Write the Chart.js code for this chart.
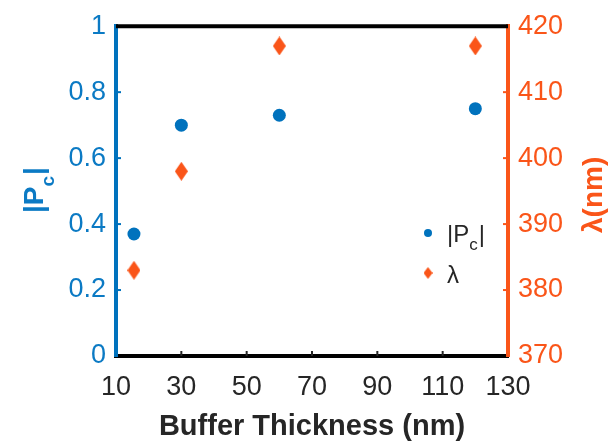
<!DOCTYPE html>
<html lang="en">
<head>
  <meta charset="UTF-8">
  <title>Buffer Thickness</title>
  <script src="https://cdn.jsdelivr.net/npm/chart.js"></script>
  <style>
    body { margin: 0; padding: 0; background: #fff; }
    canvas { display: block; }
  </style>
</head>
<body>
  <canvas id="chart" width="611" height="441"></canvas>
  <script>
    // data
    const thickness = [15.5, 30, 60, 120];        // nm
    const pcValues = [0.37, 0.70, 0.73, 0.75];    // |Pc|
    const lambdaValues = [383, 398, 417, 417];    // nm
    const xTicks = [10, 30, 50, 70, 90, 110, 130];
    const pcTicks = [0, 0.2, 0.4, 0.6, 0.8, 1];
    const lambdaTicks = [370, 380, 390, 400, 410, 420];

    const BLUE = '#0072BD';
    const BLUE_TEXT = '#0B7AC4';
    const ORANGE = '#FA5519';
    const DARK = '#262626';
    const FONT = "'Liberation Sans', Arial, Helvetica, sans-serif";

    // MATLAB-like diamond (taller than wide)
    function makeDiamond(w, h, color) {
      const c = document.createElement('canvas');
      c.width = w; c.height = h;
      const g = c.getContext('2d');
      g.fillStyle = color;
      g.beginPath();
      g.moveTo(w / 2, 0);
      g.lineTo(w, h / 2);
      g.lineTo(w / 2, h);
      g.lineTo(0, h / 2);
      g.closePath();
      g.fill();
      return c;
    }
    const diamond = makeDiamond(13, 19, ORANGE);
    const smallDiamond = makeDiamond(9, 12, ORANGE);

    const pcPoints = thickness.map((x, i) => ({ x, y: pcValues[i] }));
    const lambdaPoints = thickness.map((x, i) => ({ x, y: lambdaValues[i] }));

    const decor = {
      id: 'decor',
      afterDraw(chart) {
        const ctx = chart.ctx;
        const a = chart.chartArea;
        const xs = chart.scales.x, ys = chart.scales.y, ys1 = chart.scales.y1;
        ctx.save();
        // top box line
        ctx.strokeStyle = '#000';
        ctx.lineWidth = 4;
        ctx.beginPath();
        ctx.moveTo(a.left, a.top);
        ctx.lineTo(a.right, a.top);
        ctx.stroke();

        // inward tick marks
        ctx.lineWidth = 2;
        ctx.strokeStyle = DARK;
        xTicks.slice(1, -1).forEach(v => {
          const px = xs.getPixelForValue(v);
          ctx.beginPath(); ctx.moveTo(px, a.bottom); ctx.lineTo(px, a.bottom - 5); ctx.stroke();
        });
        ctx.strokeStyle = BLUE;
        pcTicks.slice(1, -1).forEach(v => {
          const py = ys.getPixelForValue(v);
          ctx.beginPath(); ctx.moveTo(a.left, py); ctx.lineTo(a.left + 5, py); ctx.stroke();
        });
        ctx.strokeStyle = ORANGE;
        lambdaTicks.slice(1, -1).forEach(v => {
          const py = ys1.getPixelForValue(v);
          ctx.beginPath(); ctx.moveTo(a.right, py); ctx.lineTo(a.right - 5, py); ctx.stroke();
        });

        // x title
        ctx.fillStyle = DARK;
        ctx.font = 'bold 29px ' + FONT;
        ctx.textAlign = 'center';
        ctx.textBaseline = 'alphabetic';
        ctx.fillText('Buffer Thickness (nm)', (a.left + a.right) / 2, 435);

        // left title |Pc| with subscript
        ctx.save();
        ctx.translate(43, 213);
        ctx.rotate(-Math.PI / 2);
        ctx.fillStyle = BLUE_TEXT;
        ctx.textAlign = 'left';
        ctx.font = 'bold 28px ' + FONT;
        ctx.fillText('|P', 0, 0);
        let w = ctx.measureText('|P').width;
        ctx.font = 'bold 19px ' + FONT;
        ctx.fillText('c', w, 11);
        w += ctx.measureText('c').width + 1;
        ctx.font = 'bold 28px ' + FONT;
        ctx.fillText('|', w, 0);
        ctx.restore();

        // right title λ(nm)
        ctx.save();
        ctx.translate(602, 233);
        ctx.rotate(-Math.PI / 2);
        ctx.fillStyle = ORANGE;
        ctx.textAlign = 'left';
        ctx.font = 'bold 28px ' + FONT;
        ctx.fillText('λ(nm)', 0, 0);
        ctx.restore();

        // legend
        ctx.fillStyle = BLUE;
        ctx.beginPath();
        ctx.arc(428, 233, 4, 0, Math.PI * 2);
        ctx.fill();
        ctx.drawImage(smallDiamond, 428 - 4.5, 273 - 6);
        ctx.fillStyle = DARK;
        ctx.textAlign = 'left';
        ctx.font = '24px ' + FONT;
        ctx.fillText('|P', 447, 242);
        let lw = ctx.measureText('|P').width;
        ctx.font = '17px ' + FONT;
        ctx.fillText('c', 447 + lw, 250);
        lw += ctx.measureText('c').width + 1;
        ctx.font = '24px ' + FONT;
        ctx.fillText('|', 447 + lw, 242);
        ctx.fillText('λ', 447, 283);
        ctx.restore();
      }
    };

    new Chart(document.getElementById('chart'), {
      type: 'scatter',
      data: {
        datasets: [
          {
            label: '|Pc|',
            data: pcPoints,
            yAxisID: 'y',
            backgroundColor: BLUE,
            borderColor: BLUE,
            pointStyle: 'circle',
            pointRadius: 6.5,
            pointHoverRadius: 6.5,
            borderWidth: 0
          },
          {
            label: 'λ',
            data: lambdaPoints,
            yAxisID: 'y1',
            pointStyle: diamond,
            pointRadius: 9,
            pointHoverRadius: 9
          }
        ]
      },
      options: {
        responsive: false,
        animation: false,
        layout: { padding: { top: 22, left: 0, right: 0, bottom: 0 } },
        plugins: { legend: { display: false }, tooltip: { enabled: false } },
        scales: {
          x: {
            type: 'linear',
            min: 10, max: 130,
            afterBuildTicks: s => { s.ticks = xTicks.map(v => ({ value: v })); },
            afterFit: s => { s.height = 85; },
            grid: { display: false, drawTicks: false },
            border: { display: true, color: '#000', width: 4 },
            ticks: { color: DARK, padding: 15, maxRotation: 0, autoSkip: false, font: { family: FONT, size: 27 } }
          },
          y: {
            position: 'left',
            min: 0, max: 1,
            afterBuildTicks: s => { s.ticks = pcTicks.map(v => ({ value: v })); },
            afterFit: s => { s.width = 116; },
            grid: { display: false, drawTicks: false },
            border: { display: true, color: BLUE, width: 4 },
            ticks: { color: BLUE_TEXT, padding: 10, font: { family: FONT, size: 27 },
                     callback: v => String(v) }
          },
          y1: {
            position: 'right',
            min: 370, max: 420,
            afterBuildTicks: s => { s.ticks = lambdaTicks.map(v => ({ value: v })); },
            afterFit: s => { s.width = 103; },
            grid: { display: false, drawTicks: false },
            border: { display: true, color: ORANGE, width: 4 },
            ticks: { color: ORANGE, padding: 10, font: { family: FONT, size: 27 } }
          }
        }
      },
      plugins: [decor]
    });
  </script>
</body>
</html>
